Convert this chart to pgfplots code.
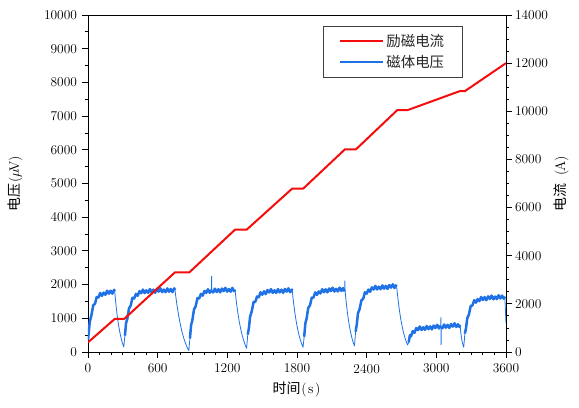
\documentclass[border=0pt]{standalone}
\usepackage{fontspec}
\usepackage{pgfplots}
\usepackage{pgfplotstable}
\pgfplotsset{compat=1.18}
\newfontfamily\cjk{Noto Sans CJK SC}
\definecolor{vblue}{RGB}{30,114,230}
\definecolor{ired}{RGB}{245,12,12}
\newcommand{\hw}[1]{\makebox[0.5em]{#1}}
\pgfplotstableread{
t v
0 350
15 885
30 1100
45 1388
60 1431
75 1633
90 1614
105 1752
120 1666
135 1762
150 1697
165 1820
180 1730
195 1818
210 1730
225 1847
230 1800
240 1429
250 1122
260 868
270 660
280 488
290 346
300 229
308 150
318 485
328 865
338 973
353 1292
368 1381
383 1609
398 1589
413 1724
428 1669
443 1805
458 1745
473 1853
488 1748
503 1830
518 1755
533 1867
548 1769
563 1851
578 1758
593 1870
608 1792
623 1889
638 1776
653 1853
668 1775
683 1886
698 1788
713 1870
728 1777
743 1889
749 1840
764 1444
779 1115
794 843
808 618
823 431
838 276
853 146
868 40
878 401
888 801
898 926
913 1263
928 1365
943 1600
958 1587
973 1726
988 1673
1003 1812
1018 1753
1033 1862
1048 1758
1063 1841
1065 2250
1067 1800
1078 1767
1093 1879
1108 1781
1123 1864
1138 1771
1153 1883
1168 1805
1183 1903
1198 1790
1213 1867
1228 1789
1243 1902
1258 1804
1266 1850
1278.5 1467
1291 1149
1303.5 886
1316 669
1328.5 488
1341 338
1353.5 213
1366 110
1376 516
1386 711
1396 1049
1411 1217
1426 1485
1441 1489
1456 1647
1471 1623
1486 1773
1501 1700
1516 1800
1531 1719
1546 1839
1561 1766
1576 1867
1591 1754
1606 1831
1621 1754
1636 1866
1651 1768
1666 1850
1681 1757
1696 1870
1711 1792
1726 1889
1741 1776
1756 1853
1759 1830
1770.6 1458
1782.3 1149
1793.9 894
1805.5 682
1817.1 507
1828.8 361
1840.4 240
1852 140
1862 454
1872 853
1882 979
1897 1307
1912 1385
1927 1614
1942 1617
1957 1769
1972 1694
1987 1797
2002 1737
2017 1863
2032 1773
2047 1861
2062 1772
2077 1885
2092 1808
2107 1907
2122 1795
2137 1873
2152 1796
2167 1909
2182 1813
2197 1896
2210 1803
2212 2110
2213 1864
2223.25 1493
2233.5 1185
2243.75 930
2254 719
2264.25 544
2274.5 399
2284.75 277
2295 178
2305 605
2315 818
2325 1145
2340 1283
2355 1535
2370 1577
2385 1772
2400 1731
2415 1852
2430 1787
2445 1919
2460 1855
2475 1962
2490 1856
2505 1938
2520 1862
2535 1976
2550 1880
2565 1964
2580 1873
2595 1987
2610 1910
2625 2009
2640 1898
2652 1976
2658 1955
2669.75 1571
2681.5 1251
2693.25 987
2705 769
2716.75 587
2728.5 437
2740.25 311
2752 208
2762 287
2772 495
2782 466
2797 619
2812 570
2827 710
2842 650
2857 758
2872 653
2887 732
2902 657
2917 771
2932 676
2947 760
2962 670
2977 784
2992 709
3007 808
3022 698
3037 778
3040 1030
3041 210
3043 754
3052 702
3067 816
3082 721
3097 805
3112 715
3127 829
3142 754
3157 853
3172 742
3187 822
3198 745
3204 802
3212 535
3220 352
3228 226
3236 139
3246 548
3256 714
3266 997
3281 1116
3296 1367
3311 1381
3326 1537
3341 1464
3356 1569
3371 1509
3386 1633
3401 1543
3416 1628
3431 1537
3446 1652
3461 1576
3476 1676
3491 1565
3506 1645
3521 1569
3536 1684
3551 1588
3566 1673
3581 1582
3590 1645
3595 1250
3600 850
}\bluedata
\begin{document}
\begin{tikzpicture}
\pgfplotsset{
  common/.style={
    scale only axis, width=418bp, height=337bp,
    xmin=0, xmax=3600,
    tick align=outside,
    major tick length=5.5bp, minor tick length=3bp,
    scaled ticks=false,
    /pgf/number format/1000 sep={},
    /pgf/number format/assume math mode=true,
    tick label style={font=\fontsize{13.5}{16}\selectfont, black},
    axis line style={black, line width=0.8bp},
    every tick/.style={black, line width=0.8bp},
    label style={font=\fontsize{14}{16}\selectfont, black},
  },
  band/.style={vblue, line width=2.5bp, line join=round, restrict x to domain=#1},
}
\begin{axis}[
  common,
  ymin=0, ymax=10000,
  xtick={0,600,...,3600}, minor x tick num=5,
  ytick={0,1000,...,10000}, minor y tick num=1,
  xtick pos=bottom, ytick pos=left,
  xticklabel style={yshift=-3bp},
  yticklabel style={xshift=-2bp},
  xlabel={{\cjk 时间}\hw{(}\hw{s}\hw{)}},
  ylabel={{\cjk 电压}\hw{(}\hw{$\mu$}\hw{V}\hw{)}},
  xlabel style={at={(axis description cs:0.5,-0.1098)}, anchor=center},
  ylabel style={at={(axis description cs:-0.1746,0.5)}, anchor=center},
]
\addplot[vblue, line width=0.8bp, line join=round] table[x=t,y=v]{\bluedata};
\addplot[band=0:230] table[x=t,y=v]{\bluedata};
\addplot[band=318:749] table[x=t,y=v]{\bluedata};
\addplot[band=878:1063] table[x=t,y=v]{\bluedata};
\addplot[band=1067:1266] table[x=t,y=v]{\bluedata};
\addplot[band=1376:1759] table[x=t,y=v]{\bluedata};
\addplot[band=1862:2210] table[x=t,y=v]{\bluedata};
\addplot[band=2305:2658] table[x=t,y=v]{\bluedata};
\addplot[band=2762:3037] table[x=t,y=v]{\bluedata};
\addplot[band=3043:3204] table[x=t,y=v]{\bluedata};
\addplot[band=3246:3590] table[x=t,y=v]{\bluedata};
\end{axis}
\begin{axis}[
  common,
  ymin=0, ymax=14000,
  axis x line=none, axis y line*=right,
  ytick={0,2000,...,14000}, minor y tick num=3,
  ylabel={{\cjk 电流}\hw{\ }\hw{(}\hw{A}\hw{)}},
  ylabel style={at={(axis description cs:1.1316,0.5)}, anchor=center},
  legend style={at={(axis description cs:0.8971,0.9682)}, anchor=north east,
    font={\cjk\fontsize{14.5}{17}\selectfont}, draw=black!75, line width=0.6bp,
    inner xsep=16.5bp, inner ysep=6bp, row sep=4bp, text=black!85},
  legend cell align=left,
  legend image code/.code={\draw[#1] (0bp,0bp) -- (43bp,0bp);},
]
\addplot[ired, line width=2bp, line join=round] coordinates {
(0,400) (232,1380) (313,1380) (749,3310) (873,3310) (1266,5080) (1366,5080)
(1759,6790) (1854,6790) (2213,8420) (2308,8420) (2664,10050) (2753,10050)
(3204,10840) (3247,10840) (3600,12000)
};
\addlegendentry{励磁电流}
\addlegendimage{vblue, line width=2bp}
\addlegendentry{磁体电压}
\end{axis}
\pgfresetboundingbox
\useasboundingbox (-88bp,-56bp) rectangle (491bp,352bp);
\end{tikzpicture}
\end{document}
